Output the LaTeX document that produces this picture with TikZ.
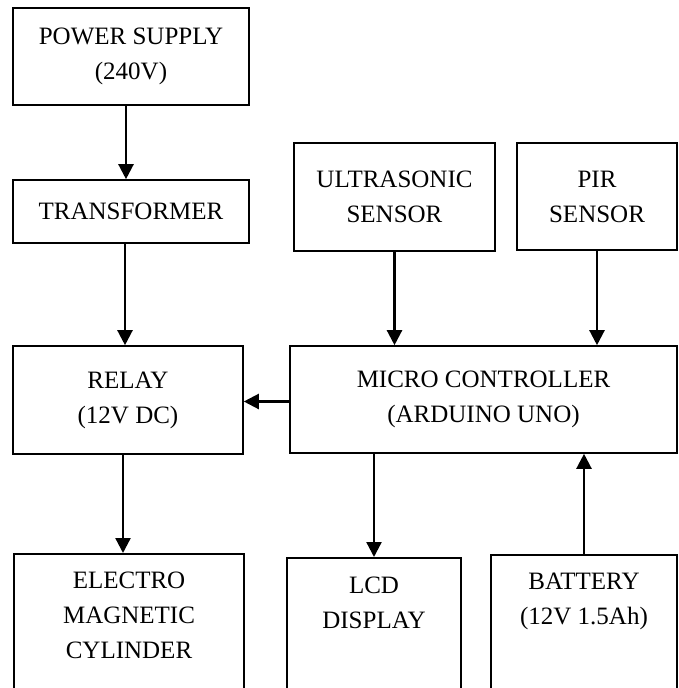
\documentclass[tikz,border=0pt]{standalone}
\usepackage{fontspec}
\setmainfont{Liberation Serif}
\usetikzlibrary{arrows.meta}
\begin{document}
\begin{tikzpicture}[x=1pt,y=-1pt,
  box/.style={draw, line width=1.6pt, rectangle, inner sep=0pt, align=center,
    font=\fontsize{25}{35}\selectfont},
  txt/.style={inner sep=0pt, align=center, anchor=north, font=\fontsize{25}{35}\selectfont},
  conn/.style={line width=2.3pt, -{Triangle[length=15pt,width=15pt]}}]
\useasboundingbox (0,0) rectangle (679,688);
\clip (0,0) rectangle (679,688);
% top row boxes
\node[box, minimum width=236pt, minimum height=97pt] (ps) at (131,56.5) {POWER SUPPLY\\(240V)};
\node[box, minimum width=236pt, minimum height=63pt] (tr) at (131,211.5) {TRANSFORMER};
\node[box, minimum width=201pt, minimum height=108pt] (us) at (394.5,197) {ULTRASONIC\\SENSOR};
\node[box, minimum width=160pt, minimum height=107pt] (pir) at (597,196.5) {PIR\\SENSOR};
\node[box, minimum width=230pt, minimum height=108pt] (relay) at (128,400) {RELAY\\(12V DC)};
\node[box, minimum width=387pt, minimum height=107pt] (mc) at (483.5,399.5) {MICRO CONTROLLER\\(ARDUINO UNO)};
% bottom boxes (cut by the page edge)
\node[box, minimum width=230pt, minimum height=200pt, anchor=north] (emc) at (129,553) {};
\node[box, minimum width=174pt, minimum height=200pt, anchor=north] (lcd) at (374,557) {};
\node[box, minimum width=186pt, minimum height=200pt, anchor=north] (bat) at (584,554) {};
\node[txt] (emct) at ([yshift=-19pt]emc.north) {ELECTRO\\MAGNETIC\\CYLINDER};
\node[txt] (lcdt) at ([yshift=-20pt]lcd.north) {LCD\\DISPLAY};
\node[txt] (batt) at ([yshift=-19pt]bat.north) {BATTERY\\(12V 1.5Ah)};
% connectors
\draw[conn] ([xshift=-5pt]ps.south) -- ([xshift=-5pt]tr.north);
\draw[conn] ([xshift=-6pt]tr.south) -- ([xshift=-6pt]tr.south |- relay.north);
\draw[conn] ([xshift=-5pt]relay.south) -- ([xshift=-5pt]relay.south |- emc.north);
\draw[conn] (us.south) -- (us.south |- mc.north);
\draw[conn] (pir.south) -- (pir.south |- mc.north);
\draw[conn] ([yshift=-2pt]mc.west) -- ([yshift=-2pt]mc.west -| relay.east);
\draw[conn] (mc.south -| lcd.north) -- (lcd.north);
\draw[conn] (bat.north) -- (bat.north |- mc.south);
\end{tikzpicture}
\end{document}
